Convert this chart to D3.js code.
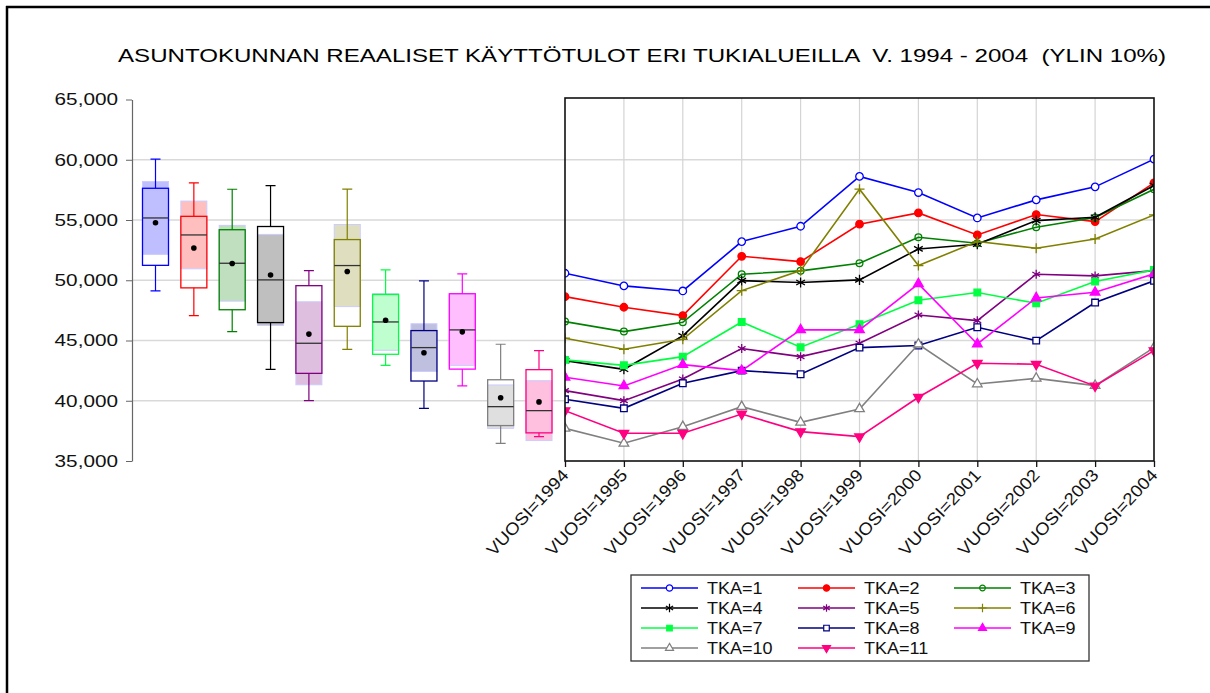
<!DOCTYPE html>
<html>
<head>
<meta charset="utf-8">
<script src="https://cdn.jsdelivr.net/npm/d3@7"></script>
<style>
  body { margin: 0; background: #fff; }
  svg { display: block; font-family: 'Liberation Sans', Arial, sans-serif; }
</style>
</head>
<body>
<div id="wrapper"></div>
<script>
const chartTitle = 'ASUNTOKUNNAN REAALISET KÄYTTÖTULOT ERI TUKIALUEILLA  V. 1994 - 2004  (YLIN 10%)';
const years = [1994, 1995, 1996, 1997, 1998, 1999, 2000, 2001, 2002, 2003, 2004];
const groups = ['TKA=1', 'TKA=2', 'TKA=3', 'TKA=4', 'TKA=5', 'TKA=6', 'TKA=7', 'TKA=8', 'TKA=9', 'TKA=10', 'TKA=11'];
const yTicks = [35000, 40000, 45000, 50000, 55000, 60000, 65000];

const tka1 = [50580, 49530, 49110, 53210, 54480, 58620, 57280, 55170, 56670, 57750, 60050];
const tka2 = [48640, 47760, 47070, 51990, 51550, 54650, 55590, 53760, 55450, 54870, 58080];
const tka3 = [46570, 45740, 46510, 50500, 50780, 51410, 53570, 53070, 54400, 55200, 57550];
const tka4 = [43330, 42610, 45380, 49970, 49810, 50030, 52600, 52990, 54950, 55230, 57860];
const tka5 = [40840, 40010, 41810, 44330, 43660, 44770, 47120, 46650, 50500, 50360, 50800];
const tka6 = [45190, 44270, 45100, 49140, 50800, 57560, 51220, 53210, 52660, 53430, 55420];
const tka7 = [43390, 42940, 43660, 46540, 44440, 46350, 48340, 48980, 48090, 49890, 50860];
const tka8 = [40120, 39370, 41450, 42500, 42200, 44410, 44580, 46100, 44990, 48150, 49950];
const tka9 = [41950, 41230, 43000, 42500, 45880, 45880, 49700, 44710, 48530, 49000, 50530];
const tka10 = [37710, 36470, 37850, 39510, 38210, 39320, 44690, 41390, 41860, 41260, 44410];
const tka11 = [39180, 37300, 37300, 38900, 37440, 37020, 40290, 43110, 43030, 41230, 44160];
const series = [tka1, tka2, tka3, tka4, tka5, tka6, tka7, tka8, tka9, tka10, tka11];

const colors = ['#0000ff', '#ff0000', '#008000', '#000000', '#800080', '#808000',
  '#00ff40', '#000080', '#ff00ff', '#808080', '#ff0080'];

// custom marker shapes for d3.symbol
const plusSymbol = {
  draw(ctx, size) {
    const r = Math.sqrt(size) * 0.6;
    ctx.moveTo(-r, 0); ctx.lineTo(r, 0);
    ctx.moveTo(0, -r); ctx.lineTo(0, r);
  },
};
const starSymbol = {
  draw(ctx, size) {
    const r = Math.sqrt(size) * 0.6;
    for (let a = 0; a < 3; a++) {
      const t = Math.PI / 2 + (a * Math.PI) / 3;
      ctx.moveTo(r * Math.cos(t), r * Math.sin(t));
      ctx.lineTo(-r * Math.cos(t), -r * Math.sin(t));
    }
  },
};
const triangleDown = {
  draw(ctx, size) {
    const h = Math.sqrt(size * 4 / Math.sqrt(3));
    const s = h * Math.sqrt(3) / 2;
    ctx.moveTo(-h / 2, -s / 3);
    ctx.lineTo(h / 2, -s / 3);
    ctx.lineTo(0, (2 * s) / 3);
    ctx.closePath();
  },
};
const markers = [
  { type: d3.symbolCircle, fill: 'white', size: 44 },
  { type: d3.symbolCircle, fill: 'color', size: 44 },
  { type: d3.symbolCircle, fill: 'none', size: 36 },
  { type: starSymbol, fill: 'none', size: 70 },
  { type: starSymbol, fill: 'none', size: 55 },
  { type: plusSymbol, fill: 'none', size: 70 },
  { type: d3.symbolSquare, fill: 'color', size: 44 },
  { type: d3.symbolSquare, fill: 'white', size: 44 },
  { type: d3.symbolTriangle, fill: 'color', size: 40 },
  { type: d3.symbolTriangle, fill: 'white', size: 40 },
  { type: triangleDown, fill: 'color', size: 40 },
];

const width = 1210;
const height = 693;

const svg = d3.select('#wrapper')
  .append('svg')
  .attr('width', width)
  .attr('height', height);

// stretch a text to k times its natural width (source graph is widened)
const stretch = (sel, k) => sel.each(function () {
  const len = this.getComputedTextLength();
  d3.select(this).attr('textLength', len * k).attr('lengthAdjust', 'spacingAndGlyphs');
});

// outer frame (only top and left edges visible)
svg.append('line').attr('x1', 6).attr('x2', width).attr('y1', 7).attr('y2', 7)
  .attr('stroke', 'black').attr('stroke-width', 2.5);
svg.append('line').attr('x1', 7).attr('x2', 7).attr('y1', 6).attr('y2', height)
  .attr('stroke', 'black').attr('stroke-width', 2.5);

svg.append('text')
  .attr('x', 642)
  .attr('y', 62)
  .attr('text-anchor', 'middle')
  .style('font-size', '19px')
  .style('white-space', 'pre')
  .attr('xml:space', 'preserve')
  .attr('textLength', 1048)
  .attr('lengthAdjust', 'spacingAndGlyphs')
  .text(chartTitle);

const yScale = d3.scaleLinear().domain([35000, 65000]).range([461, 99.5]);

const panel = { left: 565, right: 1154, top: 98, bottom: 461 };
const xScale = d3.scalePoint().domain(years).range([panel.left, panel.right]);
const boxX = d3.scalePoint().domain(groups).range([155.5, 539]);

// horizontal grid
svg.append('g')
  .selectAll('line')
  .data(yTicks.filter((d) => d > 35000 && d < 65000))
  .join('line')
  .attr('x1', 132)
  .attr('x2', panel.right)
  .attr('y1', (d) => yScale(d))
  .attr('y2', (d) => yScale(d))
  .attr('stroke', '#d9d9d9')
  .attr('stroke-width', 1.5);

// left axis
const yAxis = svg.append('g')
  .attr('transform', 'translate(132,0)')
  .call(d3.axisLeft(yScale).tickValues(yTicks).tickFormat(d3.format(',')).tickSize(6).tickSizeOuter(0));
yAxis.select('.domain').attr('stroke', '#666').attr('stroke-width', 1.2);
yAxis.selectAll('.tick line').attr('stroke', '#666');
yAxis.selectAll('.tick text')
  .attr('x', -14)
  .attr('fill', '#111')
  .style('font-size', '17px')
  .style('font-family', "'Liberation Sans', Arial, sans-serif")
  .call(stretch, 1.22);

// ---------- box plots ----------
// quantiles by the (i - 0.5) / n rule, as the source graph uses
const quantile = (sorted, p) => {
  const pos = sorted.length * p + 0.5;
  const i = Math.floor(pos);
  const f = pos - i;
  const lo = sorted[Math.max(0, i - 1)];
  const hi = sorted[Math.min(sorted.length - 1, i)];
  return lo + f * (hi - lo);
};

const boxStats = series.map((values, i) => {
  const sorted = values.slice().sort(d3.ascending);
  const q1 = quantile(sorted, 0.25);
  const median = quantile(sorted, 0.5);
  const q3 = quantile(sorted, 0.75);
  const notch = (1.57 * (q3 - q1)) / Math.sqrt(sorted.length);
  return {
    group: groups[i],
    color: colors[i],
    min: sorted[0],
    max: sorted[sorted.length - 1],
    q1, median, q3,
    mean: d3.mean(sorted),
    notchLo: median - notch,
    notchHi: median + notch,
  };
});

const boxHalf = 13;
const capHalf = 5;
const boxes = svg.append('g').selectAll('g').data(boxStats).join('g');

boxes.append('rect')
  .attr('x', (d) => boxX(d.group) - boxHalf)
  .attr('width', boxHalf * 2)
  .attr('y', (d) => yScale(d.notchHi))
  .attr('height', (d) => yScale(d.notchLo) - yScale(d.notchHi))
  .attr('fill', (d) => d3.interpolateRgb(d.color, 'white')(0.75))
  .attr('stroke', '#ccccff')
  .attr('stroke-width', 1);

boxes.append('rect')
  .attr('x', (d) => boxX(d.group) - boxHalf)
  .attr('width', boxHalf * 2)
  .attr('y', (d) => yScale(d.q3))
  .attr('height', (d) => yScale(d.q1) - yScale(d.q3))
  .attr('fill', 'none')
  .attr('stroke', (d) => d.color)
  .attr('stroke-width', 1.3);

boxes.append('line')
  .attr('x1', (d) => boxX(d.group) - boxHalf)
  .attr('x2', (d) => boxX(d.group) + boxHalf)
  .attr('y1', (d) => yScale(d.median))
  .attr('y2', (d) => yScale(d.median))
  .attr('stroke', '#333')
  .attr('stroke-width', 1.3);

// whiskers
boxes.append('path')
  .attr('d', (d) => {
    const cx = boxX(d.group);
    return `M${cx},${yScale(d.q3)}V${yScale(d.max)}M${cx - capHalf},${yScale(d.max)}H${cx + capHalf}`
      + `M${cx},${yScale(d.q1)}V${yScale(d.min)}M${cx - capHalf},${yScale(d.min)}H${cx + capHalf}`;
  })
  .attr('fill', 'none')
  .attr('stroke', (d) => d.color)
  .attr('stroke-width', 1.2);

boxes.append('circle')
  .attr('cx', (d) => boxX(d.group))
  .attr('cy', (d) => yScale(d.mean))
  .attr('r', 2.8)
  .attr('fill', 'black');

// ---------- line panel ----------
svg.append('g')
  .selectAll('line')
  .data(years.slice(1, -1))
  .join('line')
  .attr('x1', (d) => xScale(d))
  .attr('x2', (d) => xScale(d))
  .attr('y1', panel.top)
  .attr('y2', panel.bottom)
  .attr('stroke', '#d4d4d4')
  .attr('stroke-width', 1.2);

svg.append('clipPath')
  .attr('id', 'panel-clip')
  .append('rect')
  .attr('x', panel.left)
  .attr('y', panel.top)
  .attr('width', panel.right - panel.left)
  .attr('height', panel.bottom - panel.top);

const plot = svg.append('g').attr('clip-path', 'url(#panel-clip)');

const lineGen = d3.line()
  .x((d, i) => xScale(years[i]))
  .y((d) => yScale(d));

const symbolPath = (m, scale = 1) => d3.symbol().type(m.type).size(m.size * scale)();

series.forEach((values, i) => {
  const color = colors[i];
  const m = markers[i];
  plot.append('path')
    .attr('d', lineGen(values))
    .attr('fill', 'none')
    .attr('stroke', color)
    .attr('stroke-width', 1.6);

  plot.append('g')
    .selectAll('path')
    .data(values)
    .join('path')
    .attr('transform', (d, j) => `translate(${xScale(years[j])},${yScale(d)})`)
    .attr('d', symbolPath(m))
    .attr('fill', m.fill === 'color' ? color : m.fill)
    .attr('stroke', color)
    .attr('stroke-width', 1.3);
});

svg.append('rect')
  .attr('x', panel.left)
  .attr('y', panel.top)
  .attr('width', panel.right - panel.left)
  .attr('height', panel.bottom - panel.top)
  .attr('fill', 'none')
  .attr('stroke', '#111')
  .attr('stroke-width', 1.6);

const xAxis = svg.append('g')
  .attr('transform', `translate(0,${panel.bottom})`)
  .call(d3.axisBottom(xScale).tickSize(6).tickSizeOuter(0).tickFormat((d) => `VUOSI=${d}`));
xAxis.select('.domain').remove();
xAxis.selectAll('.tick line').attr('stroke', '#111').attr('stroke-width', 1.3);
xAxis.selectAll('.tick text')
  .attr('text-anchor', 'end')
  .attr('dy', 0)
  .attr('y', 0)
  .attr('transform', 'translate(4,15) rotate(-47)')
  .attr('fill', '#111')
  .style('font-size', '17px')
  .style('font-family', "'Liberation Sans', Arial, sans-serif")
  .call(stretch, 1.1);

// ---------- legend ----------
const legend = svg.append('g');
legend.append('rect')
  .attr('x', 631)
  .attr('y', 575)
  .attr('width', 458)
  .attr('height', 86)
  .attr('fill', 'white')
  .attr('stroke', '#333')
  .attr('stroke-width', 1.3);

const colX = [641, 798, 954];
const rowY = d3.scalePoint().domain([0, 1, 2, 3]).range([588, 648]);

const items = legend.selectAll('g.item')
  .data(groups)
  .join('g')
  .attr('class', 'item')
  .attr('transform', (d, i) => `translate(${colX[i % 3]},${rowY(Math.floor(i / 3))})`);

items.append('line')
  .attr('x1', 0).attr('x2', 57)
  .attr('stroke', (d, i) => colors[i])
  .attr('stroke-width', 1.6);

items.append('path')
  .attr('transform', 'translate(28.5,0)')
  .attr('d', (d, i) => symbolPath(markers[i], 0.7))
  .attr('fill', (d, i) => (markers[i].fill === 'color' ? colors[i] : markers[i].fill))
  .attr('stroke', (d, i) => colors[i])
  .attr('stroke-width', 1.2);

items.append('text')
  .attr('x', 66)
  .attr('y', 6)
  .style('font-size', '17px')
  .attr('fill', '#111')
  .text((d) => d)
  .call(stretch, 1.06);
</script>
</body>
</html>
